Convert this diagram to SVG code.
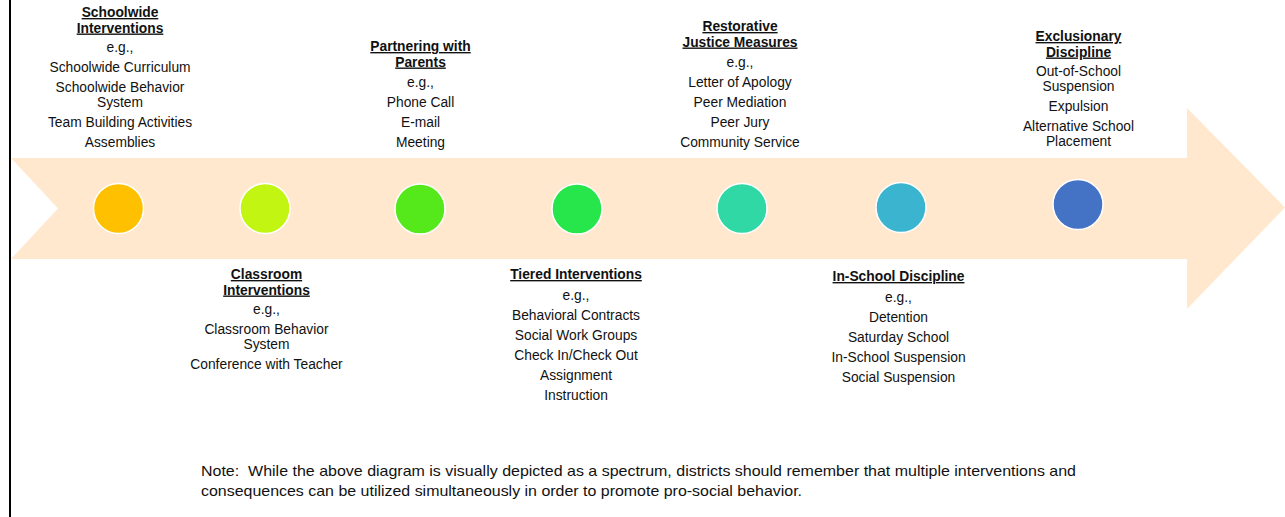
<svg xmlns="http://www.w3.org/2000/svg" width="1285" height="517" viewBox="0 0 1285 517">
<style>
text{font-family:"Liberation Sans",Arial,sans-serif;font-size:13.8px;fill:#111;text-anchor:middle}
.t{font-weight:bold;text-decoration:underline}
.n{text-anchor:start;font-size:15px}
.c{stroke:#fff;stroke-width:1.5}
</style>
<rect x="0" y="0" width="1285" height="517" fill="#fff"/>
<line x1="10" y1="0" x2="10" y2="517" stroke="#000" stroke-width="2"/>
<polygon id="arrow" points="11,158 1187,158 1187,108 1285,207.5 1187,309 1187,259 11,259 58,208.5" fill="#FFE8CE"/>
<g id="connectors"></g>
<g id="n1">
<circle class="c" cx="118.5" cy="208.5" r="25" fill="#FFC000"/>
<text class="t" x="120" y="17">Schoolwide</text>
<text class="t" x="120" y="32.5">Interventions</text>
<text x="120" y="52">e.g.,</text>
<text x="120" y="72">Schoolwide Curriculum</text>
<text x="120" y="92">Schoolwide Behavior</text>
<text x="120" y="107">System</text>
<text x="120" y="127">Team Building Activities</text>
<text x="120" y="147">Assemblies</text>
</g>
<g id="n2">
<circle class="c" cx="265" cy="208.5" r="25" fill="#C2F511"/>
<text class="t" x="266.5" y="279">Classroom</text>
<text class="t" x="266.5" y="294.5">Interventions</text>
<text x="266.5" y="314">e.g.,</text>
<text x="266.5" y="334">Classroom Behavior</text>
<text x="266.5" y="349">System</text>
<text x="266.5" y="369">Conference with Teacher</text>
</g>
<g id="n3">
<circle class="c" cx="420" cy="209" r="25" fill="#55E81B"/>
<text class="t" x="420.5" y="51">Partnering with</text>
<text class="t" x="420.5" y="66.5">Parents</text>
<text x="420.5" y="87">e.g.,</text>
<text x="420.5" y="107">Phone Call</text>
<text x="420.5" y="127">E-mail</text>
<text x="420.5" y="147">Meeting</text>
</g>
<g id="n4">
<circle class="c" cx="577" cy="209" r="25" fill="#27E64C"/>
<text class="t" x="576" y="279">Tiered Interventions</text>
<text x="576" y="300">e.g.,</text>
<text x="576" y="320">Behavioral Contracts</text>
<text x="576" y="340">Social Work Groups</text>
<text x="576" y="360">Check In/Check Out</text>
<text x="576" y="380">Assignment</text>
<text x="576" y="400">Instruction</text>
</g>
<g id="n5">
<circle class="c" cx="742" cy="208.5" r="25" fill="#30D8A6"/>
<text class="t" x="740" y="31">Restorative</text>
<text class="t" x="740" y="46.5">Justice Measures</text>
<text x="740" y="67">e.g.,</text>
<text x="740" y="87">Letter of Apology</text>
<text x="740" y="107">Peer Mediation</text>
<text x="740" y="127">Peer Jury</text>
<text x="740" y="147">Community Service</text>
</g>
<g id="n6">
<circle class="c" cx="901" cy="207.5" r="25" fill="#3BB5CF"/>
<text class="t" x="898.5" y="281">In-School Discipline</text>
<text x="898.5" y="302">e.g.,</text>
<text x="898.5" y="322">Detention</text>
<text x="898.5" y="342">Saturday School</text>
<text x="898.5" y="362">In-School Suspension</text>
<text x="898.5" y="382">Social Suspension</text>
</g>
<g id="n7">
<circle class="c" cx="1078" cy="204.5" r="25" fill="#4472C4"/>
<text class="t" x="1078.5" y="41">Exclusionary</text>
<text class="t" x="1078.5" y="56.5">Discipline</text>
<text x="1078.5" y="76">Out-of-School</text>
<text x="1078.5" y="91">Suspension</text>
<text x="1078.5" y="111">Expulsion</text>
<text x="1078.5" y="131">Alternative School</text>
<text x="1078.5" y="146">Placement</text>
</g>
<g id="note">
<text class="n" x="201" y="476" textLength="875" lengthAdjust="spacingAndGlyphs">Note:&#160; While the above diagram is visually depicted as a spectrum, districts should remember that multiple interventions and</text>
<text class="n" x="201" y="496" textLength="601" lengthAdjust="spacingAndGlyphs">consequences can be utilized simultaneously in order to promote pro-social behavior.</text>
</g>
</svg>
